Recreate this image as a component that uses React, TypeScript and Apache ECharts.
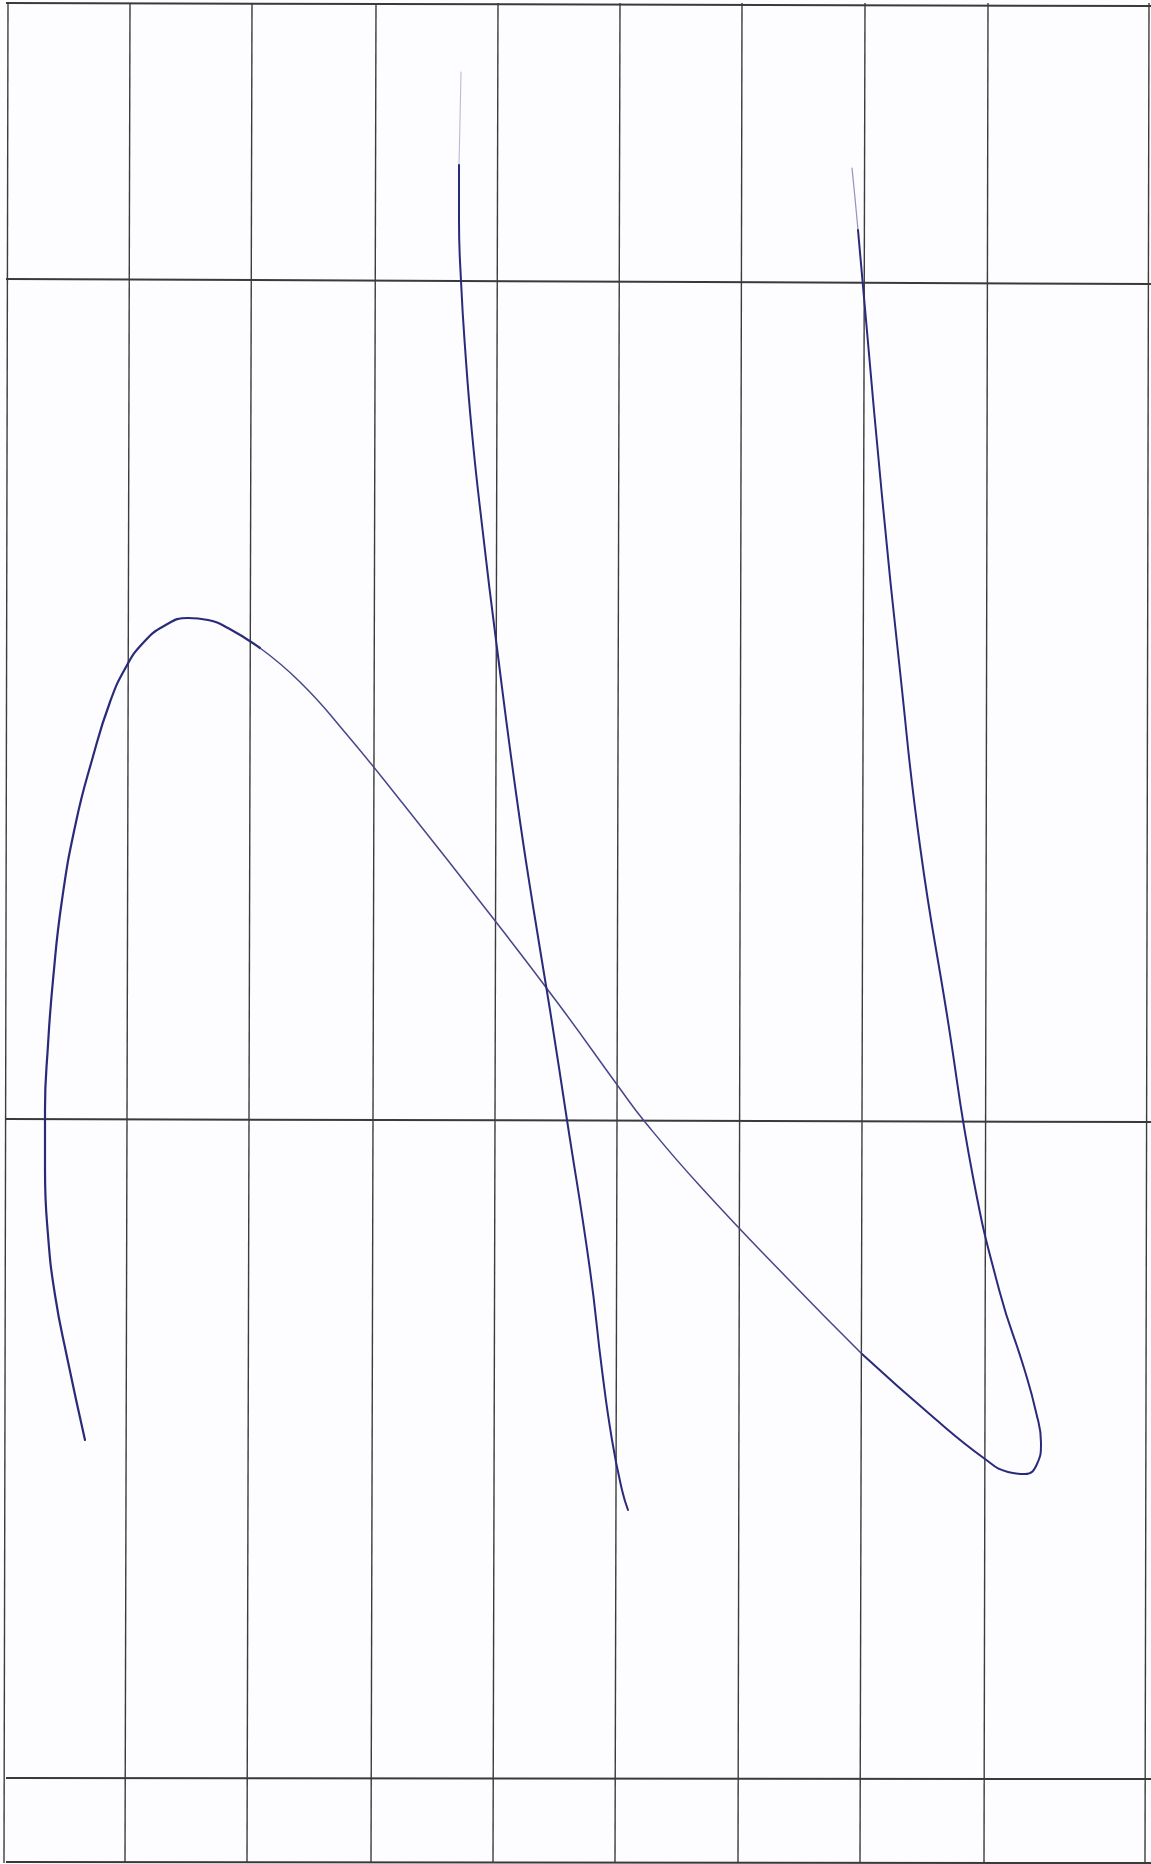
import React, { useEffect, useRef } from "react";
import * as echarts from "echarts";

const PAGE_W = 1151;
const PAGE_H = 1864;

// Grid (table) lines
const verticalTopX = [8, 130, 252, 376, 498, 620, 742, 865, 988, 1149];
const verticalBottomX = [4, 125, 247, 371, 493, 615, 738, 860, 984, 1145];
const verticalTopY = 3;
const verticalBottomY = 1863;
const horizontalLeftY = [3, 279, 1119, 1778, 1862];
const horizontalRightY = [6, 284, 1122, 1779, 1863];

// Hand-drawn curve A: left rising arc
const curveA1: [number, number][] = [
  [85, 1440], [67, 1357], [55, 1295], [48, 1235], [45, 1170], [45, 1110], [48, 1045],
  [53, 980], [62, 900], [76, 822], [92, 760], [110, 702], [126, 667], [143, 643],
  [164, 626], [188, 618], [208, 620], [228, 628], [260, 648],
];
// Curve A: descending diagonal
const curveA2: [number, number][] = [
  [260, 648], [300, 682], [343, 730], [400, 800], [496, 922], [560, 1006],
  [618, 1086], [645, 1122], [700, 1186], [790, 1281], [862, 1354],
];
// Curve A: bottom-right loop and rising stroke
const curveA3: [number, number][] = [
  [862, 1354], [933, 1417], [985, 1459], [1008, 1472], [1025, 1474], [1037, 1464],
  [1041, 1443], [1036, 1412], [1024, 1368], [1000, 1293], [973, 1177], [947, 1015],
  [920, 846], [900, 671], [882, 496], [866, 320], [858, 230],
];
const curveA3Faint: [number, number][] = [[858, 230], [855, 198], [852, 168]];

// Curve B: near-vertical stroke
const curveBFaint: [number, number][] = [[461, 72], [460, 120], [459, 165]];
const curveB: [number, number][] = [
  [459, 165], [459, 220], [461, 281], [465, 347], [472, 433], [482, 525], [497, 648],
  [517, 800], [533, 906], [550, 1010], [567, 1120], [590, 1270], [602, 1370],
  [612, 1440], [622, 1490], [628, 1510],
];

export default function App() {
  const ref = useRef<HTMLDivElement>(null);

  useEffect(() => {
    if (!ref.current) return;
    const chart = echarts.init(ref.current, undefined, { renderer: "svg" });

    const gridSeries: any[] = [];
    verticalTopX.forEach((xt, i) => {
      gridSeries.push({
        type: "line",
        data: [
          [xt, verticalTopY],
          [verticalBottomX[i], verticalBottomY],
        ],
        symbol: "none",
        silent: true,
        lineStyle: { color: "#3c3c3c", width: 1.4 },
      });
    });
    const leftX = verticalTopX[0];
    const rightX = verticalTopX[verticalTopX.length - 1];
    horizontalLeftY.forEach((yl, i) => {
      gridSeries.push({
        type: "line",
        data: [
          [leftX - 2, yl],
          [rightX + 2, horizontalRightY[i]],
        ],
        symbol: "none",
        silent: true,
        lineStyle: { color: "#3a3a3a", width: 2 },
      });
    });

    const ink = "#2a2a7a";
    const curve = (data: [number, number][], color: string, width: number, opacity = 1) => ({
      type: "line",
      data,
      symbol: "none",
      smooth: 0.5,
      silent: true,
      lineStyle: { color, width, opacity, cap: "round", join: "round" },
      z: 5,
    });

    chart.setOption({
      animation: false,
      backgroundColor: "#fdfcff",
      grid: { left: 0, right: 0, top: 0, bottom: 0 },
      xAxis: { type: "value", min: 0, max: PAGE_W, show: false },
      yAxis: { type: "value", min: 0, max: PAGE_H, inverse: true, show: false },
      series: [
        ...gridSeries,
        curve(curveA1, ink, 2.2),
        curve(curveA2, "#464688", 1.5),
        curve(curveA3, ink, 2),
        curve(curveA3Faint, ink, 1.2, 0.5),
        curve(curveBFaint, "#6a6aa0", 1.1, 0.45),
        curve(curveB, ink, 2),
      ],
    });

    return () => chart.dispose();
  }, []);

  return (
    <div
      ref={ref}
      style={{ position: "absolute", left: 0, top: 0, width: PAGE_W, height: PAGE_H }}
    />
  );
}
